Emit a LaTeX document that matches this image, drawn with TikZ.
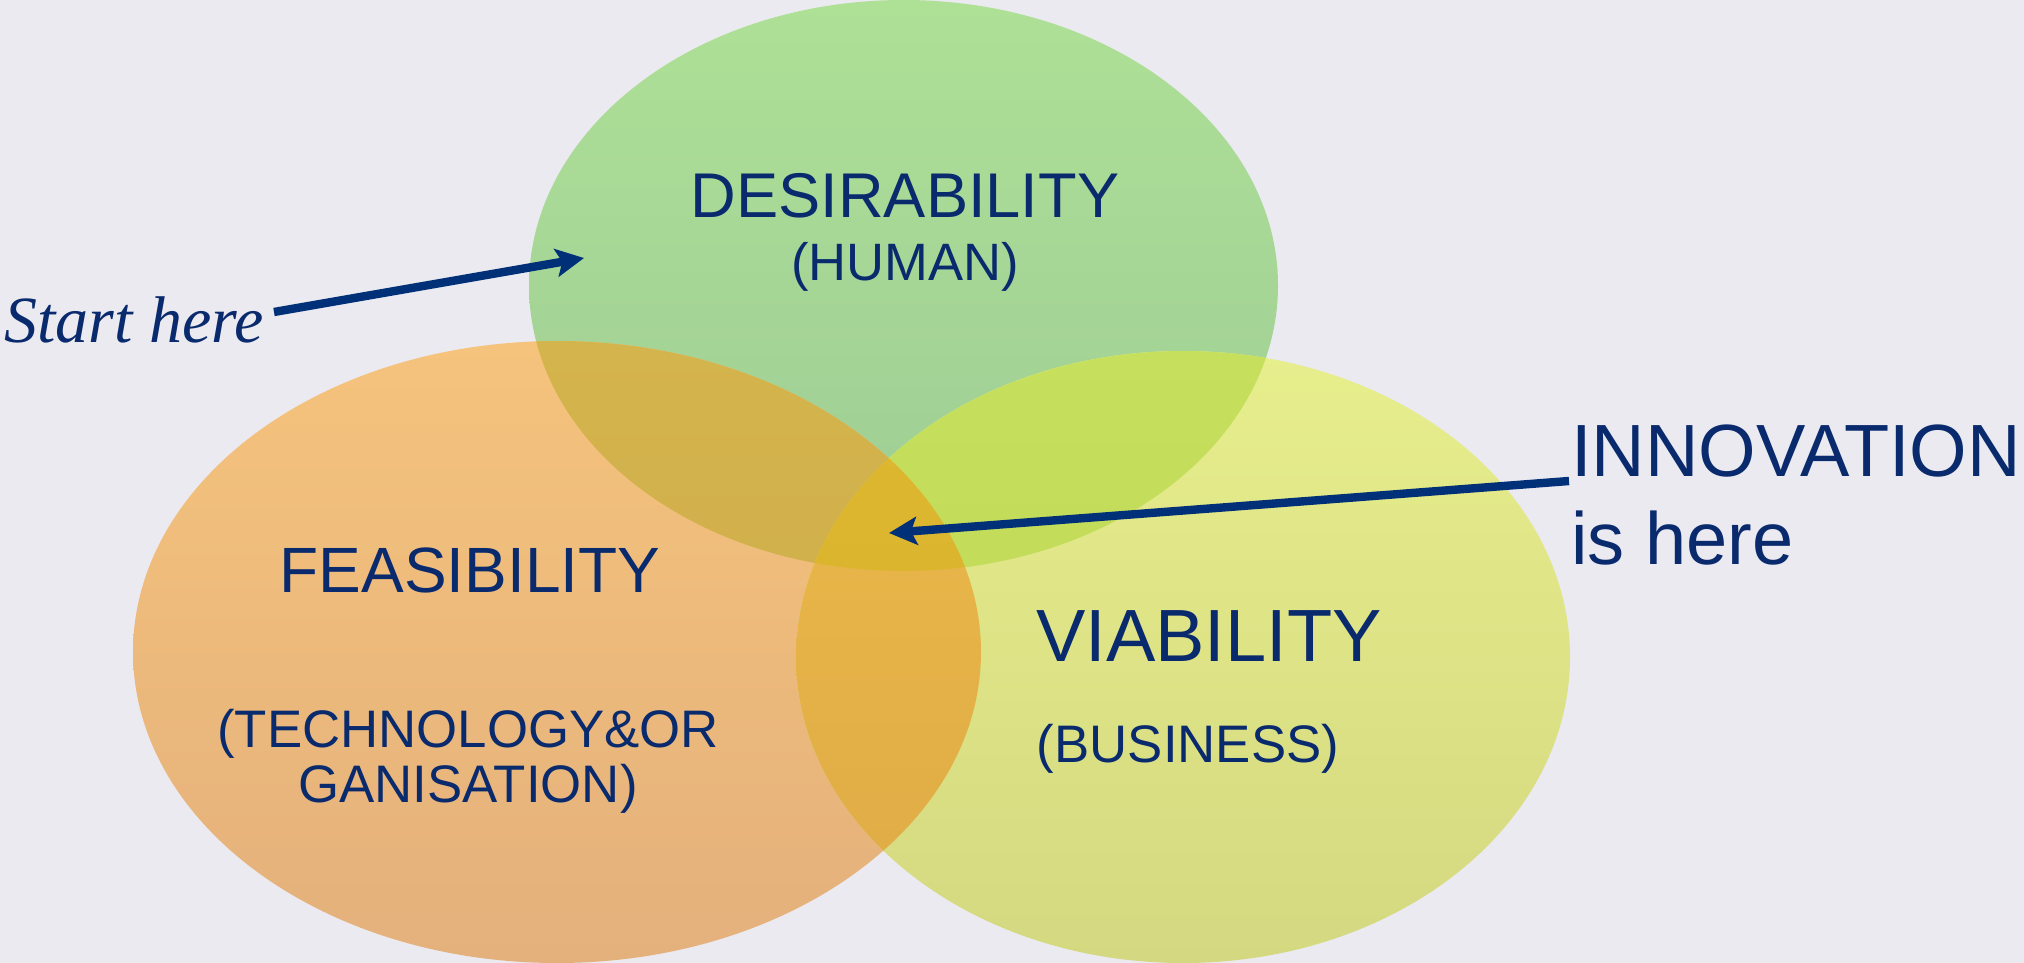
\documentclass[tikz,border=0pt]{standalone}
\usepackage{fontspec}
\setmainfont{Liberation Sans}
\newfontfamily\startfont{Liberation Serif}
\usetikzlibrary{arrows.meta}
\definecolor{bg}{RGB}{235,234,240}
\definecolor{navy}{RGB}{10,42,110}
\definecolor{arrowc}{RGB}{0,48,120}
\definecolor{gTop}{RGB}{174,224,150}
\definecolor{gBot}{RGB}{158,204,150}
\definecolor{oTop}{RGB}{245,195,124}
\definecolor{oBot}{RGB}{228,176,124}
\definecolor{yTop}{RGB}{231,238,140}
\definecolor{yBot}{RGB}{212,216,128}
\definecolor{goTop}{RGB}{212,180,76}
\definecolor{goBot}{RGB}{204,170,76}
\definecolor{gyTop}{RGB}{198,224,94}
\definecolor{gyBot}{RGB}{188,214,84}
\definecolor{oyTop}{RGB}{236,186,74}
\definecolor{oyBot}{RGB}{222,170,70}
\definecolor{goyTop}{RGB}{222,184,48}
\definecolor{goyBot}{RGB}{216,176,46}
\def\Gpath{(903.5,285.5) ellipse [x radius=374.5, y radius=285.5]}
\def\Opath{(557,652) ellipse [x radius=424, y radius=311]}
\def\Ypath{(1183,657) ellipse [x radius=387, y radius=306]}
\tikzset{
  txt/.style={text=navy, inner sep=0pt},
  arr/.style={draw=arrowc, line width=4.2pt, -{Stealth[length=14pt,width=14pt,inset=3pt]}},
}
\begin{document}
\begin{tikzpicture}[x=0.5pt,y=-0.5pt]
\fill[bg] (0,0) rectangle (2024,963);
\useasboundingbox (0,0) rectangle (2024,963);
% single ellipses
\shade[top color=gTop, bottom color=gBot] \Gpath;
\shade[top color=oTop, bottom color=oBot] \Opath;
\shade[top color=yTop, bottom color=yBot] \Ypath;
% pairwise overlaps
\begin{scope}
  \clip \Gpath;
  \shade[top color=goTop, bottom color=goBot] \Opath;
\end{scope}
\begin{scope}
  \clip \Gpath;
  \shade[top color=gyTop, bottom color=gyBot] \Ypath;
\end{scope}
\begin{scope}
  \clip \Opath;
  \shade[top color=oyTop, bottom color=oyBot] \Ypath;
\end{scope}
\begin{scope}
  \clip \Gpath;
  \clip \Opath;
  \shade[top color=goyTop, bottom color=goyBot] \Ypath;
\end{scope}
% texts
\node[txt, anchor=base, font=\fontsize{31.6}{36}\selectfont] (des) at (905,217) {DESIRABILITY};
\node[txt, anchor=base, font=\fontsize{26.3}{30}\selectfont] (hum) at (905,280) {(HUMAN)};
\node[txt, anchor=base, font=\fontsize{32}{36}\selectfont] (fea) at (470,592) {FEASIBILITY};
\node[txt, anchor=base, font=\fontsize{26.4}{30}\selectfont] (tec) at (468,747) {(TECHNOLOGY\&OR};
\node[txt, anchor=base, font=\fontsize{26.4}{30}\selectfont] (gan) at (468,802) {GANISATION)};
\node[txt, anchor=base, font=\fontsize{37}{42}\selectfont] (via) at (1209,661) {VIABILITY};
\node[txt, anchor=base, font=\fontsize{26.4}{30}\selectfont] (bus) at (1188,762) {(BUSINESS)};
\node[txt, anchor=base west, font=\fontsize{37}{42}\selectfont] (inn) at (1571,476) {INNOVATION};
\node[txt, anchor=base west, font=\fontsize{37}{42}\selectfont] (ish) at (1571,564) {is here};
\node[txt, anchor=base west, font=\startfont\itshape\fontsize{33}{38}\selectfont] (start) at (4,342) {Start here};
% arrows
\coordinate (sA) at (274,312);
\coordinate (tA) at (584,258);
\coordinate (sB) at (1569,481);
\coordinate (tB) at (889,533);
\draw[arr] (sA) -- (tA);
\draw[arr] (sB) -- (tB);
\end{tikzpicture}
\end{document}
